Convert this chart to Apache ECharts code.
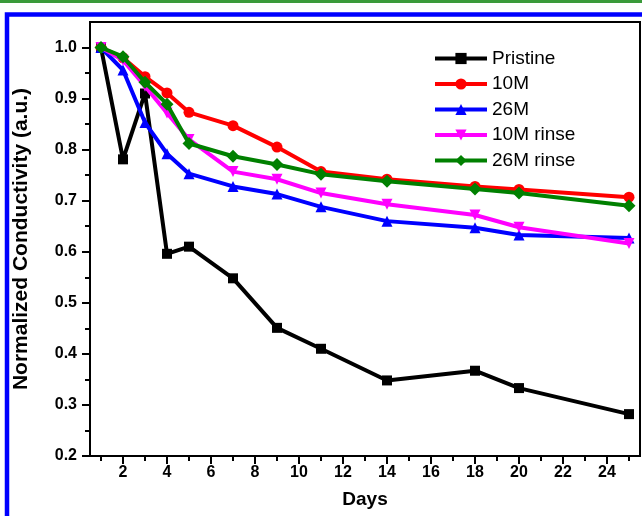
<!DOCTYPE html>
<html><head><meta charset="utf-8">
<script src="https://cdn.jsdelivr.net/npm/echarts@6/dist/echarts.min.js"></script>
<style>html,body{margin:0;padding:0;background:#fff}#c{width:642px;height:516px}</style>
</head><body><div id="c"></div>
<script>
const days = [1, 2, 3, 4, 5, 7, 9, 11, 14, 18, 20, 25];
const pristine = [1.0, 0.781, 0.91, 0.596, 0.61, 0.548, 0.451, 0.41, 0.348, 0.367, 0.333, 0.282];
const m10 = [1.0, 0.98, 0.943, 0.911, 0.873, 0.847, 0.805, 0.757, 0.742, 0.728, 0.722, 0.707];
const m26 = [1.0, 0.956, 0.853, 0.792, 0.753, 0.728, 0.713, 0.688, 0.66, 0.647, 0.633, 0.627];
const m10rinse = [1.0, 0.975, 0.924, 0.872, 0.82, 0.757, 0.742, 0.715, 0.693, 0.672, 0.648, 0.616];
const m26rinse = [1.0, 0.982, 0.932, 0.889, 0.812, 0.787, 0.771, 0.752, 0.738, 0.723, 0.715, 0.690];
const seriesNames = ['Pristine', '10M', '26M', '10M rinse', '26M rinse'];
const xMajorTicks = [2, 4, 6, 8, 10, 12, 14, 16, 18, 20, 22, 24];
const xMinorTicks = [1, 3, 5, 7, 9, 11, 13, 15, 17, 19, 21, 23, 25];
const yMajorTicks = [0.2, 0.3, 0.4, 0.5, 0.6, 0.7, 0.8, 0.9, 1.0];
const yMinorTicks = [0.25, 0.35, 0.45, 0.55, 0.65, 0.75, 0.85, 0.95];

const FONT = '"Liberation Sans", Arial, sans-serif';
const pair = (ys) => days.map((d, i) => [d, ys[i]]);
const styles = [
  {data: pristine, color: '#000000', symbol: 'rect', size: 10, rot: 0},
  {data: m10, color: '#ff0000', symbol: 'circle', size: 11, rot: 0},
  {data: m26, color: '#0000ff', symbol: 'triangle', size: 11, rot: 0},
  {data: m10rinse, color: '#ff00ff', symbol: 'triangle', size: 11, rot: 180},
  {data: m26rinse, color: '#008000', symbol: 'diamond', size: 13, rot: 0}
];

const chart = echarts.init(document.getElementById('c'), null, {renderer: 'canvas'});
const axisLineStyle = {color: '#000', width: 2};
chart.setOption({
  animation: false,
  backgroundColor: '#fff',
  graphic: [
    {type: 'rect', shape: {x: 0, y: 0, width: 642, height: 3}, style: {fill: '#3a9a3a'}, z: 0},
    {type: 'rect', shape: {x: 7, y: 14.5, width: 700, height: 600}, style: {fill: 'none', stroke: '#0000ff', lineWidth: 4.5}, z: 0}
  ],
  grid: {left: 90, right: 2, top: 22, bottom: 60, show: true, borderColor: '#000', borderWidth: 2, backgroundColor: 'transparent'},
  legend: {
    orient: 'vertical', left: 428, top: 44, itemWidth: 52, itemHeight: 14, itemGap: 6.5,
    lineStyle: {width: 4},
    textStyle: {fontSize: 19, fontFamily: FONT, color: '#000'},
    data: seriesNames
  },
  xAxis: [
    {
      type: 'value', min: 0.5, max: 25.5, position: 'bottom',
      axisLine: {show: true, lineStyle: axisLineStyle},
      axisTick: {show: true, customValues: xMajorTicks, length: 8, lineStyle: {width: 2, color: '#000'}},
      axisLabel: {show: true, customValues: xMajorTicks, fontSize: 16, fontWeight: 'bold', fontFamily: FONT, color: '#000', margin: 9},
      splitLine: {show: false},
      name: 'Days', nameLocation: 'middle', nameGap: 34,
      nameTextStyle: {fontSize: 19, fontWeight: 'bold', fontFamily: FONT, color: '#000'}
    },
    {
      type: 'value', min: 0.5, max: 25.5, position: 'bottom',
      axisLine: {show: false},
      axisTick: {show: true, customValues: xMinorTicks, length: 5, lineStyle: {width: 2, color: '#000'}},
      axisLabel: {show: false},
      splitLine: {show: false}
    }
  ],
  yAxis: [
    {
      type: 'value', min: 0.2, max: 1.05, position: 'left',
      axisLine: {show: true, lineStyle: axisLineStyle},
      axisTick: {show: true, customValues: yMajorTicks, length: 8, lineStyle: {width: 2, color: '#000'}},
      axisLabel: {show: true, customValues: yMajorTicks, formatter: v => Number(v).toFixed(1), fontSize: 16, fontWeight: 'bold', fontFamily: FONT, color: '#000', margin: 13},
      splitLine: {show: false},
      name: 'Normalized Conductivity (a.u.)', nameLocation: 'middle', nameGap: 58,
      nameTextStyle: {fontSize: 21, fontWeight: 'bold', fontFamily: FONT, color: '#000'}
    },
    {
      type: 'value', min: 0.2, max: 1.05, position: 'left',
      axisLine: {show: false},
      axisTick: {show: true, customValues: yMinorTicks, length: 5, lineStyle: {width: 2, color: '#000'}},
      axisLabel: {show: false},
      splitLine: {show: false}
    }
  ],
  series: styles.map((s, i) => ({
    name: seriesNames[i], type: 'line', xAxisIndex: 0, yAxisIndex: 0,
    data: pair(s.data), symbol: s.symbol, symbolSize: s.size, symbolRotate: s.rot,
    showAllSymbol: true, color: s.color,
    lineStyle: {width: 4, color: s.color}, itemStyle: {color: s.color},
    z: 2 + i
  }))
});
</script></body></html>
